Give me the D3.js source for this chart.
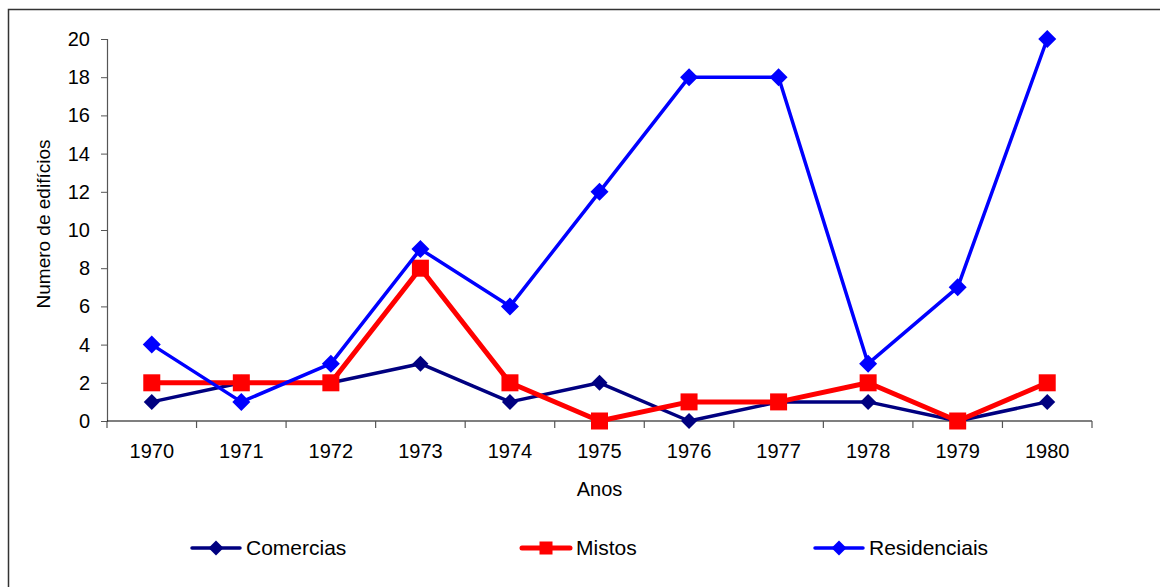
<!DOCTYPE html>
<html>
<head>
<meta charset="utf-8">
<script src="https://cdn.jsdelivr.net/npm/d3@7"></script>
<style>
  body { margin: 0; background: #fff; }
  text { font-family: "Liberation Sans", Arial, sans-serif; }
</style>
</head>
<body>
<div class="chart"></div>
<script>
// Data
const years = ["1970", "1971", "1972", "1973", "1974", "1975", "1976", "1977", "1978", "1979", "1980"];
const comercias = [1, 2, 2, 3, 1, 2, 0, 1, 1, 0, 1];
const mistos = [2, 2, 2, 8, 2, 0, 1, 1, 2, 0, 2];
const residenciais = [4, 1, 3, 9, 6, 12, 18, 18, 3, 7, 20];
const yTicks = [0, 2, 4, 6, 8, 10, 12, 14, 16, 18, 20];

const series = [
  {name: "Comercias", values: comercias, color: "#000080", width: 3.5, shape: "diamond", size: 16},
  {name: "Mistos", values: mistos, color: "#ff0000", width: 5, shape: "square", size: 17},
  {name: "Residenciais", values: residenciais, color: "#0000ff", width: 3.5, shape: "diamond", size: 18}
];

const W = 1160, H = 587;
const plot = {left: 107, right: 1092, top: 39, bottom: 421};
const fs = 20;

const svg = d3.select(".chart").append("svg")
    .attr("width", W)
    .attr("height", H);

// outer frame
svg.append("rect")
    .attr("x", 8.5).attr("y", 9.5)
    .attr("width", W).attr("height", H)
    .attr("fill", "none")
    .attr("stroke", "#333")
    .attr("stroke-width", 1.5);

const x = d3.scaleBand().domain(years).range([plot.left, plot.right]);
const y = d3.scaleLinear().domain([0, 20]).range([plot.bottom, plot.top]);

// y axis
const yAxis = svg.append("g")
    .attr("transform", "translate(" + plot.left + ",0)")
    .call(d3.axisLeft(y).tickValues(yTicks).tickSize(6).tickPadding(11));
yAxis.select(".domain").attr("stroke", "#555").attr("stroke-width", 1.2);
yAxis.selectAll(".tick line").attr("stroke", "#555");
yAxis.selectAll("text").attr("font-size", fs).attr("fill", "#000")
    .style("font-family", "'Liberation Sans', Arial, sans-serif");

// x axis with ticks between categories
const xg = svg.append("g").attr("transform", "translate(0," + plot.bottom + ")");
xg.append("line")
    .attr("x1", plot.left).attr("x2", plot.right)
    .attr("stroke", "#000").attr("stroke-width", 1.2);
const bounds = years.map(d => x(d)).concat([x(years[years.length - 1]) + x.bandwidth()]);
xg.selectAll(".xt").data(bounds).join("line")
    .attr("x1", d => d).attr("x2", d => d)
    .attr("y1", 0).attr("y2", 7)
    .attr("stroke", "#555").attr("stroke-width", 1.2);
xg.selectAll(".xl").data(years).join("text")
    .attr("x", d => x(d) + x.bandwidth() / 2)
    .attr("y", 37)
    .attr("text-anchor", "middle")
    .attr("font-size", fs)
    .text(d => d);

// axis titles
svg.append("text")
    .attr("x", (plot.left + plot.right) / 2).attr("y", 496)
    .attr("text-anchor", "middle").attr("font-size", fs)
    .text("Anos");
svg.append("text")
    .attr("transform", "translate(50,224) rotate(-90)")
    .attr("text-anchor", "middle").attr("font-size", 19)
    .text("Numero de edifícios");

const cx = i => x(years[i]) + x.bandwidth() / 2;
const line = d3.line().x((d, i) => cx(i)).y(d => y(d));

function marker(g, s, px, py, size) {
  if (s.shape === "diamond") {
    const r = size / 2;
    g.append("path")
        .attr("d", `M${px},${py - r}L${px + r},${py}L${px},${py + r}L${px - r},${py}Z`)
        .attr("fill", s.color);
  } else {
    g.append("rect")
        .attr("x", px - size / 2).attr("y", py - size / 2)
        .attr("width", size).attr("height", size)
        .attr("fill", s.color);
  }
}

// lines + markers
series.forEach(s => {
  const g = svg.append("g");
  g.append("path")
      .datum(s.values)
      .attr("fill", "none")
      .attr("stroke", s.color)
      .attr("stroke-width", s.width)
      .attr("stroke-linejoin", "round")
      .attr("d", line);
  s.values.forEach((v, i) => marker(g, s, cx(i), y(v), s.size));
});

// legend
const legendX = [192, 522, 815];
series.forEach((s, i) => {
  const g = svg.append("g").attr("transform", "translate(" + legendX[i] + ",548)");
  g.append("line")
      .attr("x1", 0).attr("x2", 48)
      .attr("stroke", s.color).attr("stroke-width", s.width)
      .attr("stroke-linecap", "round");
  marker(g, s, 24, 0, s.shape === "square" ? 13 : 15);
  g.append("text")
      .attr("x", 54).attr("y", 7)
      .attr("font-size", 21)
      .text(s.name);
});
</script>
</body>
</html>
